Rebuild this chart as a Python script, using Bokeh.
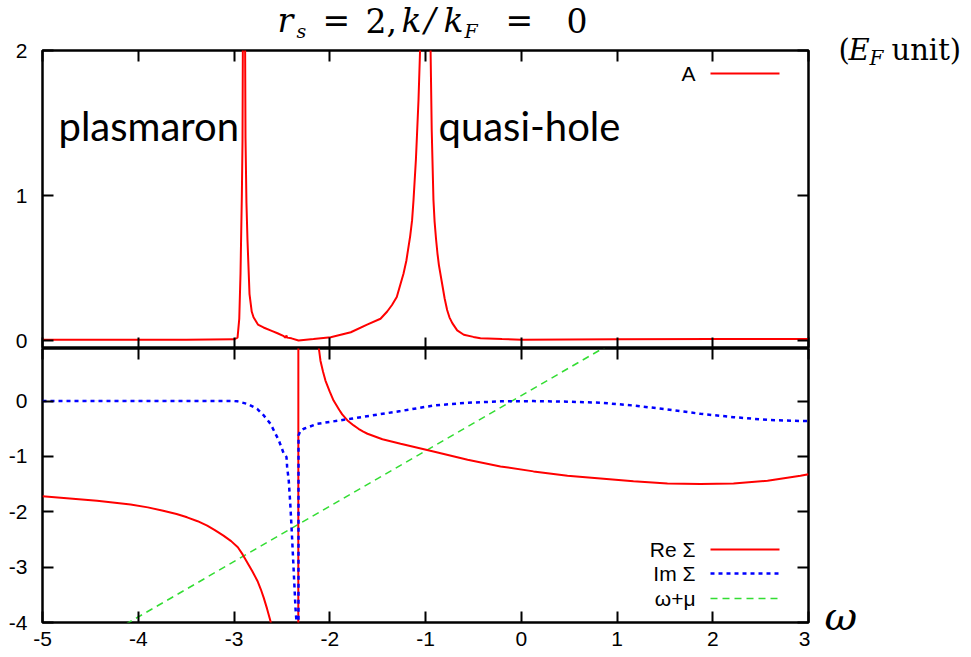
from bokeh.plotting import figure
from bokeh.layouts import column, row
from bokeh.models import Range1d, FixedTicker, LinearAxis, Label, Arrow
from bokeh.embed import file_html
from bokeh.resources import INLINE

# ---------------- data ----------------
x_ticks = [-5, -4, -3, -2, -1, 0, 1, 2, 3]
a_ticks = [0, 1, 2]
s_ticks = [-4, -3, -2, -1, 0]

# spectral function A(omega)
omega_A = [-5.0, -3.5, -3.0, -2.963, -2.945, -2.932, -2.918, -2.911, -2.905, -2.898,
           -2.890, -2.880, -2.870, -2.859, -2.838, -2.815, -2.796, -2.75, -2.692, -2.60,
           -2.546, -2.48, -2.462, -2.452, -2.445, -2.40, -2.326, -2.17, -1.99, -1.78,
           -1.61, -1.47, -1.40, -1.35, -1.30, -1.261, -1.23, -1.20, -1.16, -1.14,
           -1.125, -1.10, -1.09, -1.073, -1.052, -1.03, -1.0, -0.97, -0.948, -0.935,
           -0.917, -0.905, -0.89, -0.875, -0.86, -0.826, -0.80, -0.774, -0.75, -0.72,
           -0.669, -0.60, -0.50, -0.426, -0.2, 0.0, 1.0, 2.0, 3.0]
A_vals = [0.005, 0.005, 0.008, 0.02, 0.15, 0.46, 1.0, 1.38, 2.5, 10.0,
          3.0, 1.4, 0.95, 0.69, 0.32, 0.2, 0.16, 0.11, 0.09, 0.065,
          0.05, 0.03, 0.02, 0.035, 0.02, 0.015, 0.0, 0.01, 0.023, 0.057,
          0.11, 0.15, 0.20, 0.245, 0.30, 0.39, 0.46, 0.55, 0.72, 0.83,
          0.97, 1.25, 1.4, 1.66, 2.1, 3.2, 5.0, 3.2, 2.05, 1.45,
          0.97, 0.82, 0.70, 0.60, 0.52, 0.39, 0.29, 0.21, 0.16, 0.12,
          0.07, 0.04, 0.025, 0.015, 0.01, 0.006, 0.008, 0.01, 0.01]

# Re Sigma
omega_re = [-5.0, -4.43, -4.08, -3.9, -3.74, -3.6, -3.49, -3.38, -3.28, -3.2,
            -3.11, -3.03, -2.96, -2.91, -2.86, -2.81, -2.755, -2.72, -2.69, -2.655,
            -2.62, -2.55, -2.45, -2.38, -2.33, -2.326, -2.28, -2.20, -2.14, -2.097,
            -2.07, -2.045, -2.0, -1.96, -1.90, -1.87, -1.815, -1.75, -1.70, -1.65,
            -1.606, -1.45, -1.26, -0.917, -0.56, -0.217, 0.128, 0.483, 0.828, 1.172,
            1.527, 1.87, 2.217, 2.572, 2.916, 3.0]
re_sigma = [-1.72, -1.80, -1.87, -1.92, -1.98, -2.04, -2.10, -2.17, -2.25, -2.33,
            -2.43, -2.53, -2.64, -2.77, -2.92, -3.07, -3.25, -3.40, -3.55, -3.75,
            -3.97, -4.6, -6.0, -9.0, -20.0, 20.0, 6.0, 2.6, 1.3, 0.73,
            0.53, 0.37, 0.17, 0.01, -0.16, -0.24, -0.35, -0.44, -0.50, -0.55,
            -0.59, -0.69, -0.77, -0.91, -1.06, -1.18, -1.27, -1.35, -1.40, -1.45,
            -1.49, -1.50, -1.49, -1.44, -1.35, -1.32]

# Im Sigma
omega_im = [-5.0, -3.0, -2.963, -2.862, -2.758, -2.689, -2.619, -2.532, -2.48, -2.452,
            -2.445, -2.428, -2.410, -2.392, -2.375, -2.358, -2.347, -2.335, -2.327, -2.326,
            -2.305, -2.271, -2.131, -1.783, -1.261, -0.917, -0.561, -0.217, 0.128, 0.483,
            0.828, 1.172, 1.527, 1.872, 2.217, 2.572, 2.916, 3.0]
im_sigma = [0.0, 0.0, -0.005, -0.05, -0.14, -0.26, -0.41, -0.71, -0.95, -1.01,
            -1.19, -1.44, -1.92, -2.52, -3.12, -3.73, -4.0, -6.0, -6.0, -0.62,
            -0.53, -0.50, -0.41, -0.32, -0.18, -0.08, -0.03, -0.005, 0.0, -0.01,
            -0.03, -0.08, -0.15, -0.23, -0.29, -0.34, -0.36, -0.36]

# omega + mu (straight line)
omega_g = [-5.0, 3.0]
g_vals = [-4.9, 3.1]

legend_top = ["A"]
legend_bot = ["Re \u03a3", "Im \u03a3", "\u03c9+\u03bc"]

# ---------------- styling ----------------
MAIN_W = 810          # width of the plot column (frame right edge at 808)
SIDE_W = 971 - MAIN_W
HEAD_H = 42
FRAME_TOP = 50
LEFT = 42
TICK_FONT = "Liberation Sans"
TICK_SIZE = "21px"
SERIF = "DejaVu Serif"
RED = "#ff0000"
BLUE = "#0000ff"
GREEN = "#33dd33"


def make_axis(ticks, labels, standoff=7):
    ax = LinearAxis(ticker=FixedTicker(ticks=ticks))
    ax.axis_line_color = None
    ax.major_tick_in = 11
    ax.major_tick_out = 0
    ax.major_tick_line_width = 2
    ax.major_tick_line_color = "black"
    ax.minor_tick_line_color = None
    if labels:
        ax.major_label_overrides = {t: str(t) for t in ticks}
        ax.major_label_text_font = TICK_FONT
        ax.major_label_text_font_size = TICK_SIZE
        ax.major_label_text_color = "black"
        ax.major_label_standoff = standoff
    else:
        ax.major_label_text_font_size = "0px"
        ax.major_label_text_color = None
        ax.major_label_standoff = 0
    return ax


def base_fig(height, ymin, ymax, top, bottom, xr=None):
    f = figure(width=MAIN_W, height=height, output_backend="svg", toolbar_location=None,
               x_range=xr if xr is not None else Range1d(-5, 3),
               y_range=Range1d(ymin, ymax),
               x_axis_location=None, y_axis_location=None,
               min_border_left=LEFT, min_border_right=2,
               min_border_top=top, min_border_bottom=bottom)
    f.grid.visible = False
    f.outline_line_color = "black"
    f.outline_line_width = 2.5
    f.background_fill_color = "white"
    f.border_fill_color = "white"
    return f


def text_fig(w, h):
    f = figure(width=w, height=h, output_backend="svg", toolbar_location=None,
               x_range=Range1d(0, w), y_range=Range1d(0, h),
               x_axis_location=None, y_axis_location=None,
               min_border=0, min_border_left=0, min_border_right=0,
               min_border_top=0, min_border_bottom=0)
    f.grid.visible = False
    f.outline_line_color = None
    f.background_fill_color = "white"
    f.border_fill_color = "white"
    return f


def lab(fig, x, y, text, size, font=SERIF, italic=False, align="left"):
    fig.add_layout(Label(x=x, y=y, x_units="screen", y_units="screen", text=text,
                         text_font=font, text_font_size=size,
                         text_font_style="italic" if italic else "normal",
                         text_baseline="middle", text_align=align, text_color="black"))


# ---------------- header (title) ----------------
# its frame is aligned by the column with the plot frames (left edge at canvas x = 42)
head = text_fig(MAIN_W, HEAD_H)
def hx(cx):
    return cx - LEFT
def hy(cy):
    return HEAD_H - cy

lab(head, hx(277), hy(20), "r", "33px", italic=True)
lab(head, hx(296), hy(30), "s", "19px", italic=True)
lab(head, hx(322), hy(20), "=", "33px")
lab(head, hx(365), hy(20), "2,", "33px")
lab(head, hx(401), hy(20), "k", "33px", italic=True)
lab(head, hx(424), hy(20), "/", "33px", italic=True)
lab(head, hx(443), hy(20), "k", "33px", italic=True)
lab(head, hx(464), hy(30), "F", "19px", italic=True)
lab(head, hx(505), hy(20), "=", "33px")
lab(head, hx(566), hy(20), "0", "33px")

# ---------------- top panel ----------------
TOP_BORDER = FRAME_TOP - HEAD_H
TOP_H = TOP_BORDER + 298
top = base_fig(TOP_H, -0.055, 2.0, TOP_BORDER, 0)
top.add_layout(make_axis(a_ticks, True, standoff=15), "left")
top.add_layout(make_axis(a_ticks, False), "right")
top.add_layout(make_axis(x_ticks, False), "above")
top.add_layout(make_axis(x_ticks, False), "below")

top.line(omega_A, A_vals, line_color=RED, line_width=2)

def ty(cy):          # canvas y -> screen units of the top frame (bottom at canvas 348)
    return 348 - cy

top.add_layout(Label(x=695 - LEFT, y=ty(73), x_units="screen", y_units="screen",
                     text=legend_top[0], text_font=TICK_FONT, text_font_size=TICK_SIZE,
                     text_align="right", text_baseline="middle", text_color="black"))
top.add_layout(Arrow(end=None, x_start=710 - LEFT, y_start=ty(73), x_end=779 - LEFT,
                     y_end=ty(73), start_units="screen", end_units="screen",
                     line_color=RED, line_width=2))

lab(top, 58 - LEFT, ty(125), "plasmaron", "40px", font="Lato")
lab(top, 438 - LEFT, ty(125), "quasi-hole", "40px", font="Lato")

# ---------------- bottom panel ----------------
BOT_H = 309
bot = base_fig(BOT_H, -4.0, 0.95, 0, 35, xr=top.x_range)
bot.add_layout(make_axis(s_ticks, True, standoff=15), "left")
bot.add_layout(make_axis(s_ticks, False), "right")
bot.add_layout(make_axis(x_ticks, False), "above")
bot.add_layout(make_axis(x_ticks, True, standoff=9), "below")

bot.line(omega_g, g_vals, line_color=GREEN, line_width=1.5, line_dash="7 5")
bot.line(omega_re, re_sigma, line_color=RED, line_width=2)
bot.line(omega_im, im_sigma, line_color=BLUE, line_width=2.5, line_dash="4 4")

def by(cy):          # canvas y -> screen units of the bottom frame (bottom at canvas 622)
    return 622 - cy

leg_y = [549, 573, 598]
leg_col = [RED, BLUE, GREEN]
leg_dash = ["solid", "4 4", "7 5"]
leg_w = [2, 2.5, 1.5]
for t, yy, c, d, lw in zip(legend_bot, leg_y, leg_col, leg_dash, leg_w):
    bot.add_layout(Label(x=695 - LEFT, y=by(yy), x_units="screen", y_units="screen",
                         text=t, text_font=TICK_FONT, text_font_size=TICK_SIZE,
                         text_align="right", text_baseline="middle", text_color="black"))
    bot.add_layout(Arrow(end=None, x_start=710 - LEFT, y_start=by(yy), x_end=779 - LEFT,
                         y_end=by(yy), start_units="screen", end_units="screen",
                         line_color=c, line_width=lw, line_dash=d))

# ---------------- right side texts ----------------
side = text_fig(SIDE_W, 657)
def sx(cx):
    return cx - MAIN_W
def sy(cy):
    return 657 - cy

lab(side, sx(838), sy(49), "(", "29px")
lab(side, sx(848), sy(49), "E", "29px", italic=True)
lab(side, sx(869), sy(57), "F", "20px", italic=True)
lab(side, sx(891), sy(49), "unit)", "29px")
lab(side, sx(824), sy(615), "\u03c9", "40px", italic=True)

layout = row(column(head, top, bot, spacing=0), side, spacing=0)
open("out.html", "w").write(file_html(layout, INLINE))
